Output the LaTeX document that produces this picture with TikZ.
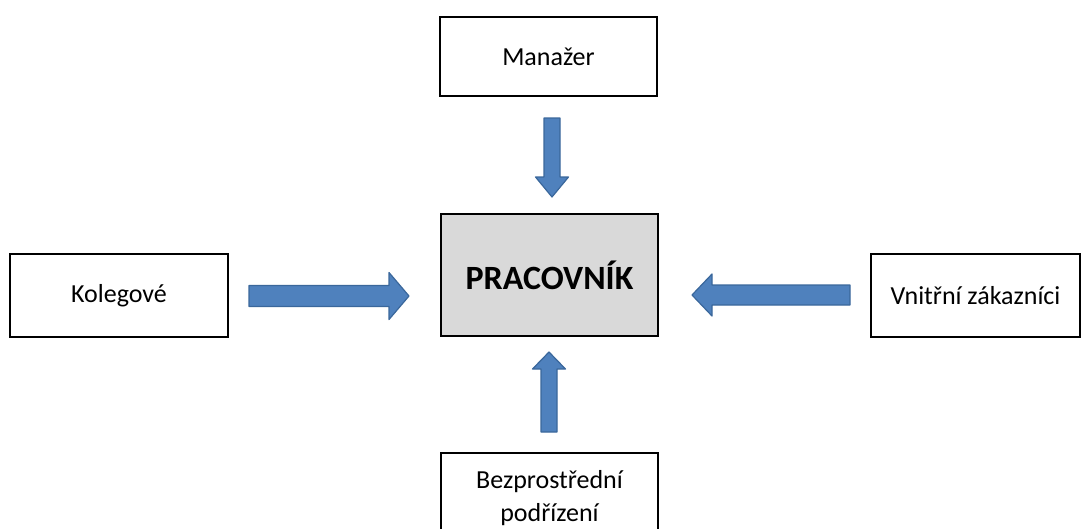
\documentclass[tikz,border=0pt]{standalone}
\usepackage{fontspec}
\setmainfont{Carlito}
\usetikzlibrary{calc}
\definecolor{arrfill}{HTML}{4F81BD}
\definecolor{arrline}{HTML}{3A679B}
\definecolor{boxgray}{HTML}{D9D9D9}
\tikzset{
  box/.style={draw=black, line width=1.8pt, fill=white, inner sep=0pt, align=center,
    font=\fontsize{26}{33}\selectfont},
  blockarrow/.style={fill=arrfill, draw=arrline, line width=1.2pt, line join=round}
}
\begin{document}
\begin{tikzpicture}[x=1pt,y=-1pt]
\useasboundingbox (0,0) rectangle (1082,528);
% boxes
\node[box, minimum width=217pt, minimum height=79pt] (man) at (548.5,56.5) {Manažer};
\node[box, fill=boxgray, minimum width=217pt, minimum height=122pt,
      font=\fontsize{34}{40}\selectfont\bfseries] (prac) at (549.5,275) {PRACOVNÍK};
\node[box, minimum width=218pt, minimum height=83pt] (kol) at (119,295.5) {Kolegové};
\node[box, minimum width=209pt, minimum height=83pt] (vni) at (975.5,295.5) {Vnitřní zákazníci};
\node[box, minimum width=217pt, minimum height=100pt, anchor=north] (bez) at (549.5,452) {};
\node[font=\fontsize{26}{33}\selectfont, align=center] (beztext) at (549.5,498) {Bezprostřední\\podřízení};
% arrow anchor coordinates
\coordinate (tA) at (552,118); \coordinate (tB) at (552,197);
\coordinate (bA) at (549,432); \coordinate (bB) at (549,352);
\coordinate (lA) at (249,296); \coordinate (lB) at (409,296);
\coordinate (rA) at (850,295); \coordinate (rB) at (692,295);
% top arrow (down)
\draw[blockarrow] ($(tA)+(-8,0)$) -- ($(tA)+(8,0)$) -- ($(tB)+(8,-20)$) -- ($(tB)+(16.5,-20)$)
  -- (tB) -- ($(tB)+(-16.5,-20)$) -- ($(tB)+(-8,-20)$) -- cycle;
% bottom arrow (up)
\draw[blockarrow] ($(bA)+(-8,0)$) -- ($(bA)+(8,0)$) -- ($(bB)+(8,17)$) -- ($(bB)+(16.5,17)$)
  -- (bB) -- ($(bB)+(-16.5,17)$) -- ($(bB)+(-8,17)$) -- cycle;
% left arrow (right)
\draw[blockarrow] ($(lA)+(0,-10.5)$) -- ($(lA)+(0,10.5)$) -- ($(lB)+(-20,10.5)$) -- ($(lB)+(-20,23.5)$)
  -- (lB) -- ($(lB)+(-20,-23.5)$) -- ($(lB)+(-20,-10.5)$) -- cycle;
% right arrow (left)
\draw[blockarrow] ($(rA)+(0,-10)$) -- ($(rA)+(0,10)$) -- ($(rB)+(20,10)$) -- ($(rB)+(20,21)$)
  -- (rB) -- ($(rB)+(20,-21)$) -- ($(rB)+(20,-10)$) -- cycle;
\end{tikzpicture}
\end{document}
